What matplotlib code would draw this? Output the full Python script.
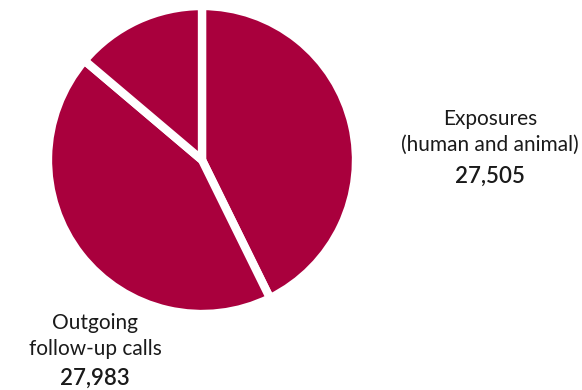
import matplotlib.pyplot as plt

# call volumes by category
categories = ['Exposures\n(human and animal)', 'Outgoing\nfollow-up calls', 'Other']
counts = [27505, 27983, 8900]
show_label = [True, True, False]

wedge_color = '#A9003D'
text_color = '#1a1a1a'

plt.rcParams['font.family'] = ['Lato', 'DejaVu Sans']

fig = plt.figure(figsize=(5.82, 3.90), dpi=100)
ax = fig.add_axes([48 / 582, 76 / 390, 308 / 582, 308 / 390])

ax.pie(counts, startangle=90, counterclock=False, radius=1.0,
       colors=[wedge_color] * len(counts),
       wedgeprops=dict(edgecolor='white', linewidth=6, joinstyle='miter'))
ax.set_xlim(-1.0, 1.0)
ax.set_ylim(-1.0, 1.0)
ax.set_aspect('equal')
ax.axis('off')

# labels placed beside the pie, with the value underneath
label_pos = [(490, 132, 176), (95, 336, 378)]
for name, value, shown, pos in zip(categories, counts, show_label, label_pos + [None]):
    if not shown:
        continue
    x, y_label, y_value = pos
    fig.text(x / 582, 1 - y_label / 390, name, ha='center', va='center',
             fontsize=15, fontweight='normal', color=text_color, linespacing=1.35)
    fig.text(x / 582, 1 - y_value / 390, f'{value:,}', ha='center', va='center',
             fontsize=16, fontweight='semibold', color=text_color)

fig.savefig('out.png', dpi=100, facecolor='white')
